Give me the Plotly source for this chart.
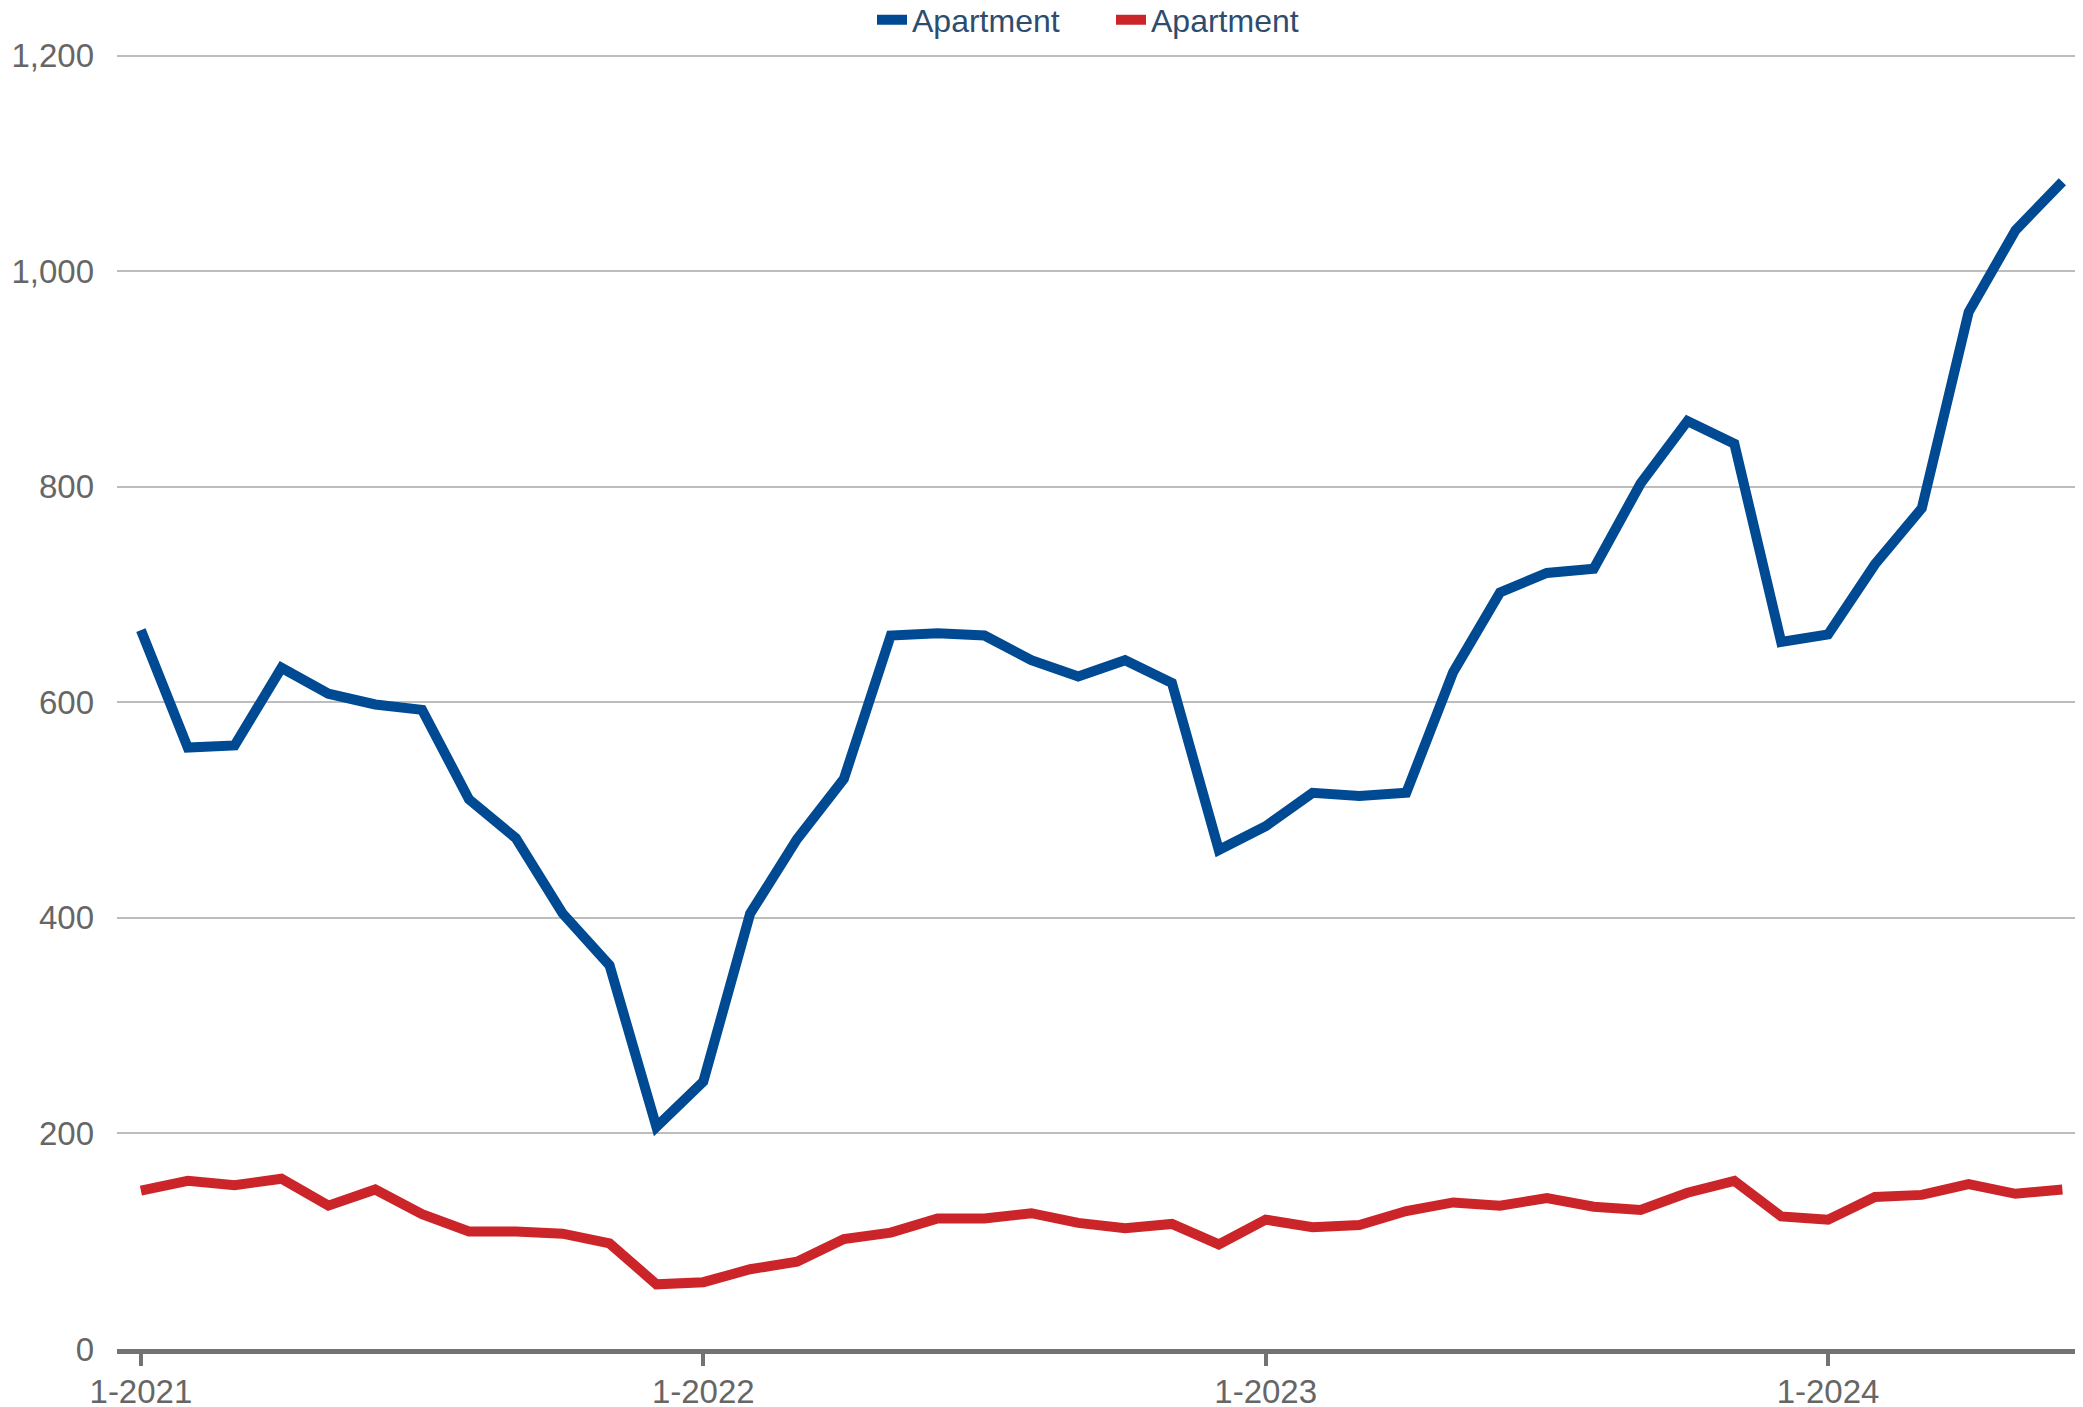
import plotly.graph_objects as go

months = [f"{m}-{y}" for y in (2021, 2022, 2023, 2024) for m in range(1, 13)][:42]

series_blue_name = "Apartment"
series_red_name = "Apartment"

blue_values = [667, 558, 560, 632, 608, 598, 593, 510, 474, 404, 356, 206,
               248, 404, 473, 529, 662, 664, 662, 639, 624, 639, 618, 463,
               485, 516, 513, 516, 628, 702, 720, 724, 803, 861, 840, 656,
               663, 728, 780, 962, 1038, 1083]

red_values = [147, 156, 152, 158, 133, 148, 125, 109, 109, 107, 98, 60,
              62, 74, 81, 102, 108, 121, 121, 126, 117, 112, 116, 97,
              120, 113, 115, 128, 136, 133, 140, 132, 129, 145, 156, 123,
              120, 141, 143, 153, 144, 148]

x_tick_labels = ["1-2021", "1-2022", "1-2023", "1-2024"]
y_tick_values = [0, 200, 400, 600, 800, 1000, 1200]

FONT = "Liberation Sans, Arial, sans-serif"

fig = go.Figure()
fig.add_trace(go.Scatter(x=months, y=blue_values, mode="lines", name=series_blue_name,
                         line=dict(color="#004a93", width=10)))
fig.add_trace(go.Scatter(x=months, y=red_values, mode="lines", name=series_red_name,
                         line=dict(color="#cc2529", width=10)))

# page body has an 8px margin, so the figure is drawn 8px smaller and placed accordingly
fig.update_layout(
    width=2075, height=1399,
    margin=dict(l=109, r=0, t=46, b=58, autoexpand=False),
    paper_bgcolor="white", plot_bgcolor="white",
    font=dict(family=FONT, size=33, color="#666666"),
    showlegend=True,
    legend=dict(orientation="h", x=(869 - 109 - 5) / 1966, xanchor="left",
                y=1 + 34 / 1295, yanchor="middle",
                font=dict(family=FONT, size=32, color="#2e4d6e"),
                bgcolor="rgba(0,0,0,0)", entrywidth=194, entrywidthmode="pixels",
                tracegroupgap=0, borderwidth=0),
    xaxis=dict(type="category", range=[-0.51, 41.44], showgrid=False,
               tickmode="array", tickvals=x_tick_labels, ticktext=x_tick_labels,
               showline=True, linecolor="#737373", linewidth=5,
               ticks="outside", ticklen=12, tickwidth=4, tickcolor="#737373",
               ticklabelstandoff=-3,
               tickfont=dict(family=FONT, size=33, color="#666666"),
               automargin=False, zeroline=False),
    yaxis=dict(range=[0, 1201.5], tickmode="array", tickvals=y_tick_values,
               tickformat=",", showgrid=True, gridcolor="#bdbdbd", gridwidth=2,
               zeroline=False, showline=False, ticks="",
               ticklabelstandoff=22,
               tickfont=dict(family=FONT, size=33, color="#666666"),
               automargin=False),
)

fig.write_html("out.html")
